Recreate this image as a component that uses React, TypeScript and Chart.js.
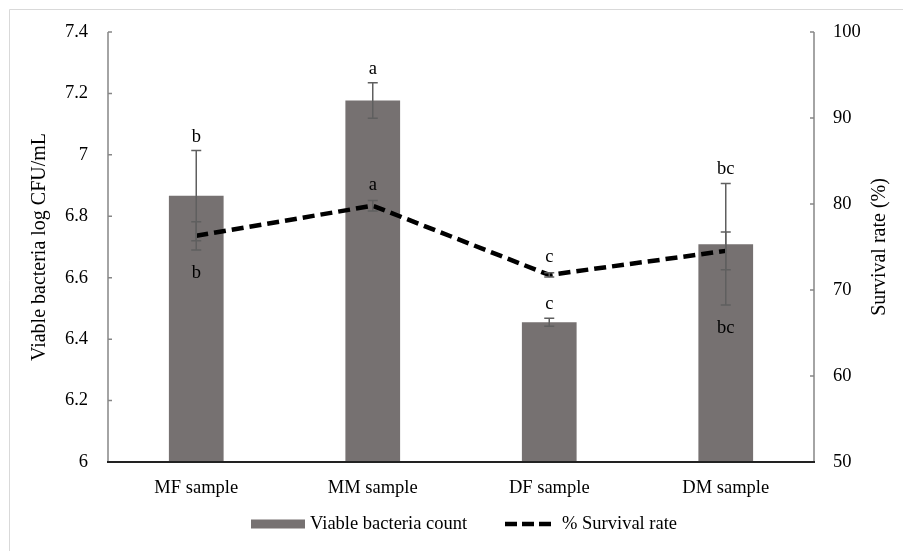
import { useEffect, useRef } from 'react';
import { Chart, registerables } from 'chart.js';

Chart.register(...registerables);

const categories = ['MF sample', 'MM sample', 'DF sample', 'DM sample'];
const viableCount = [6.867, 7.177, 6.455, 6.709];
const viableErr = [0.147, 0.058, 0.013, 0.198];
const survivalRate = [76.3, 79.8, 71.75, 74.55];
const survivalErr = [1.65, 0.6, 0.25, 2.2];
const countLetters = ['b', 'a', 'c', 'bc'];
const survivalLetters = ['b', 'a', 'c', 'bc'];
const survivalLetterSide = ['below', 'above', 'above', 'below'];
const leftAxisTitle = 'Viable bacteria log CFU/mL';
const rightAxisTitle = 'Survival rate (%)';
const barLabel = 'Viable bacteria count';
const lineLabel = '% Survival rate';

const FONT = "'Liberation Serif', 'Times New Roman', Tinos, 'DejaVu Serif', serif";
const BAR_COLOR = '#767171';
const ERR_COLOR = '#5f5f5f';
const AXIS_COLOR = '#868686';

export default function App() {
  const ref = useRef<HTMLCanvasElement | null>(null);

  useEffect(() => {
    const canvas = ref.current;
    if (!canvas) return;
    let chart: any = null;
    let cancelled = false;

    const drawErr = (ctx: CanvasRenderingContext2D, x: number, yTop: number, yBot: number) => {
      ctx.beginPath();
      ctx.moveTo(x, yTop);
      ctx.lineTo(x, yBot);
      ctx.moveTo(x - 5, yTop);
      ctx.lineTo(x + 5, yTop);
      ctx.moveTo(x - 5, yBot);
      ctx.lineTo(x + 5, yBot);
      ctx.stroke();
    };

    const plugin = {
      id: 'custom',
      beforeDraw(c: any) {
        const { ctx, width, height } = c;
        ctx.save();
        ctx.fillStyle = '#fff';
        ctx.fillRect(0, 0, width, height);
        ctx.strokeStyle = '#d9d9d9';
        ctx.lineWidth = 1;
        ctx.beginPath();
        ctx.moveTo(9.5, height);
        ctx.lineTo(9.5, 9.5);
        ctx.lineTo(width, 9.5);
        ctx.stroke();
        ctx.restore();
      },
      afterDatasetDraw(c: any, args: any) {
        const { ctx } = c;
        const x = c.scales.x;
        ctx.save();
        ctx.strokeStyle = ERR_COLOR;
        ctx.lineWidth = 1.5;
        if (args.index === 0) {
          const y = c.scales.y;
          viableCount.forEach((v, i) => {
            drawErr(ctx, x.getPixelForValue(i), y.getPixelForValue(v + viableErr[i]), y.getPixelForValue(v - viableErr[i]));
          });
        } else {
          const y = c.scales.y1;
          survivalRate.forEach((v, i) => {
            drawErr(ctx, x.getPixelForValue(i), y.getPixelForValue(v + survivalErr[i]), y.getPixelForValue(v - survivalErr[i]));
          });
        }
        ctx.restore();
      },
      afterDraw(c: any) {
        const { ctx, chartArea } = c;
        const x = c.scales.x;
        const y = c.scales.y;
        const y1 = c.scales.y1;
        ctx.save();
        ctx.strokeStyle = AXIS_COLOR;
        ctx.lineWidth = 1.5;
        ctx.beginPath();
        ctx.moveTo(chartArea.left, chartArea.top);
        ctx.lineTo(chartArea.left, chartArea.bottom);
        ctx.moveTo(chartArea.right, chartArea.top);
        ctx.lineTo(chartArea.right, chartArea.bottom);
        y.ticks.forEach((t: any) => {
          const p = y.getPixelForValue(t.value);
          ctx.moveTo(chartArea.left, p);
          ctx.lineTo(chartArea.left + 4, p);
        });
        y1.ticks.forEach((t: any) => {
          const p = y1.getPixelForValue(t.value);
          ctx.moveTo(chartArea.right, p);
          ctx.lineTo(chartArea.right - 4, p);
        });
        ctx.stroke();
        ctx.strokeStyle = '#222';
        ctx.lineWidth = 2;
        ctx.beginPath();
        ctx.moveTo(chartArea.left - 1, chartArea.bottom);
        ctx.lineTo(chartArea.right + 1, chartArea.bottom);
        ctx.stroke();

        ctx.fillStyle = '#000';
        ctx.font = `18.5px ${FONT}`;
        ctx.textAlign = 'center';
        ctx.textBaseline = 'alphabetic';
        viableCount.forEach((v, i) => {
          const px = x.getPixelForValue(i);
          const top = y.getPixelForValue(v + viableErr[i]);
          ctx.fillText(countLetters[i], px, top - 9);
        });
        survivalRate.forEach((v, i) => {
          const px = x.getPixelForValue(i);
          if (survivalLetterSide[i] === 'above') {
            const top = y1.getPixelForValue(v + survivalErr[i]);
            ctx.fillText(survivalLetters[i], px, top - 11);
          } else {
            const bot = Math.max(
              y1.getPixelForValue(v - survivalErr[i]),
              y.getPixelForValue(viableCount[i] - viableErr[i])
            );
            ctx.fillText(survivalLetters[i], px, bot + 28);
          }
        });

        ctx.font = `20px ${FONT}`;
        ctx.textBaseline = 'middle';
        const midY = (chartArea.top + chartArea.bottom) / 2;
        ctx.save();
        ctx.translate(40, midY);
        ctx.rotate(-Math.PI / 2);
        ctx.fillText(leftAxisTitle, 0, 0);
        ctx.restore();
        ctx.save();
        ctx.translate(880, midY);
        ctx.rotate(-Math.PI / 2);
        ctx.fillText(rightAxisTitle, 0, 0);
        ctx.restore();

        const ly = 524;
        ctx.fillStyle = BAR_COLOR;
        ctx.fillRect(251, ly - 4.5, 54, 9);
        ctx.fillStyle = '#000';
        ctx.font = `18.5px ${FONT}`;
        ctx.textAlign = 'left';
        ctx.fillText(barLabel, 310, ly);
        ctx.strokeStyle = '#000';
        ctx.lineWidth = 4.5;
        ctx.setLineDash([12, 5]);
        ctx.beginPath();
        ctx.moveTo(505, ly);
        ctx.lineTo(553, ly);
        ctx.stroke();
        ctx.setLineDash([]);
        ctx.fillText(lineLabel, 562, ly);
        ctx.restore();
      },
    };

    const build = () => {
      if (cancelled) return;
      chart = new Chart(canvas, {
        type: 'bar',
        data: {
          labels: categories,
          datasets: [
            {
              type: 'bar',
              label: barLabel,
              data: viableCount,
              backgroundColor: BAR_COLOR,
              yAxisID: 'y',
              barPercentage: 1,
              categoryPercentage: 0.31,
              order: 1,
            },
            {
              type: 'line',
              label: lineLabel,
              data: survivalRate,
              borderColor: '#000',
              borderWidth: 4.5,
              borderDash: [12, 6],
              pointRadius: 0,
              fill: false,
              tension: 0,
              yAxisID: 'y1',
              order: 0,
            } as any,
          ],
        },
        options: {
          responsive: false,
          animation: false,
          layout: { padding: { top: 32, left: 0, right: 0, bottom: 0 } },
          plugins: {
            legend: { display: false },
            tooltip: { enabled: false },
          },
          scales: {
            x: {
              grid: { display: false, drawTicks: false },
              border: { display: false },
              ticks: { font: { family: FONT, size: 18.5 }, color: '#000', padding: 15 },
              afterFit: (s: any) => {
                s.height = 89;
              },
            },
            y: {
              position: 'left',
              min: 6,
              max: 7.4,
              grid: { display: false, drawTicks: false },
              border: { display: false },
              ticks: {
                stepSize: 0.2,
                font: { family: FONT, size: 18.5 },
                color: '#000',
                padding: 20,
                callback: (v: any) => String(Number(Number(v).toFixed(1))),
              },
              afterFit: (s: any) => {
                s.width = 108;
              },
            },
            y1: {
              position: 'right',
              min: 50,
              max: 100,
              grid: { display: false, drawTicks: false },
              border: { display: false },
              ticks: {
                stepSize: 10,
                font: { family: FONT, size: 18.5 },
                color: '#000',
                padding: 19,
              },
              afterFit: (s: any) => {
                s.width = 89;
              },
            },
          },
        },
        plugins: [plugin],
      });
    };

    const fontsApi: any = (document as any).fonts;
    if (fontsApi && fontsApi.load) {
      Promise.all([
        fontsApi.load("18px 'Liberation Serif'"),
        fontsApi.load("20px 'Liberation Serif'"),
      ])
        .catch(() => null)
        .then(() => build());
    } else {
      build();
    }

    return () => {
      cancelled = true;
      if (chart) chart.destroy();
    };
  }, []);

  return (
    <div style={{ position: 'absolute', left: 0, top: 0, width: 903, height: 551 }}>
      <span style={{ position: 'absolute', left: -9999, fontFamily: "'Liberation Serif'" }}>Aa</span>
      <canvas ref={ref} width={903} height={551} style={{ width: 903, height: 551 }} />
    </div>
  );
}
